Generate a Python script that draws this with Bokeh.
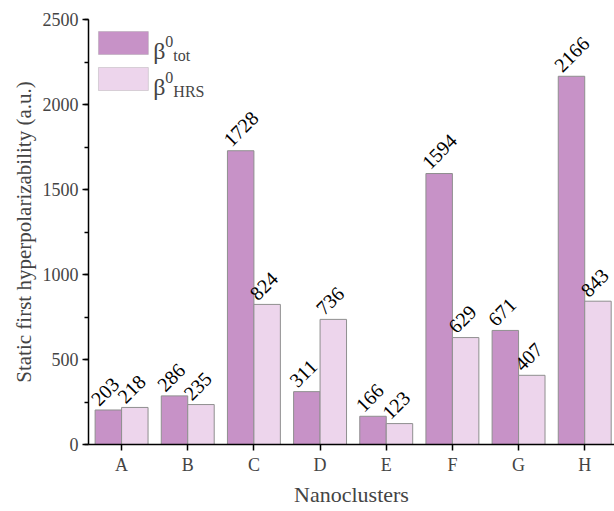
from bokeh.plotting import figure
from bokeh.models import ColumnDataSource, Range1d, FixedTicker, SingleIntervalTicker, Label, BoxAnnotation
from bokeh.core.properties import value
from bokeh.embed import file_html
from bokeh.resources import INLINE

categories = ["A", "B", "C", "D", "E", "F", "G", "H"]
beta_tot = [203, 286, 1728, 311, 166, 1594, 671, 2166]
beta_hrs = [218, 235, 824, 736, 123, 629, 407, 843]

C_TOT = "#C792C7"
C_HRS = "#EDD5EC"
EDGE = "#8f8f8f"
FONT = "Liberation Serif"

xs = list(range(1, len(categories) + 1))
x_tot = [x - 0.2 for x in xs]
x_hrs = [x + 0.2 for x in xs]

p = figure(width=614, height=511, output_backend="svg", toolbar_location=None,
           x_range=Range1d(0.5, 8.45), y_range=Range1d(0, 2500),
           min_border_left=88, min_border_right=0, min_border_top=19, min_border_bottom=67)
p.outline_line_color = None
p.xgrid.visible = False
p.ygrid.visible = False
p.background_fill_color = "white"
p.border_fill_color = "white"

src_t = ColumnDataSource(dict(x=x_tot, top=beta_tot, lab=[str(v) for v in beta_tot]))
src_h = ColumnDataSource(dict(x=x_hrs, top=beta_hrs, lab=[str(v) for v in beta_hrs]))

p.vbar(x="x", top="top", width=0.4, bottom=0, source=src_t, fill_color=C_TOT, line_color=EDGE, line_width=1)
p.vbar(x="x", top="top", width=0.4, bottom=0, source=src_h, fill_color=C_HRS, line_color=EDGE, line_width=1)

for src in (src_t, src_h):
    p.text(x="x", y="top", text="lab", source=src, angle=45, angle_units="deg",
           text_align="left", text_baseline="alphabetic", x_offset=-14, y_offset=-8,
           text_font=value(FONT), text_font_size="20px", text_color="black")

# axes
xa = p.xaxis[0]
xa.ticker = FixedTicker(ticks=xs)
xa.major_label_overrides = {x: c for x, c in zip(xs, categories)}
xa.minor_tick_line_color = None
xa.major_tick_out = 6
xa.major_tick_in = 0
xa.axis_line_width = 1.5
xa.major_tick_line_width = 1.5
xa.major_label_text_font = FONT
xa.major_label_text_font_size = "18px"
xa.major_label_standoff = 4
xa.axis_label = "Nanoclusters"
xa.axis_label_text_font = FONT
xa.axis_label_text_font_size = "22px"
xa.axis_label_text_font_style = "normal"
xa.axis_label_standoff = 4

ya = p.yaxis[0]
ya.ticker = SingleIntervalTicker(interval=500, num_minor_ticks=2)
ya.major_tick_out = 6
ya.major_tick_in = 0
ya.minor_tick_out = 4
ya.minor_tick_in = 0
ya.axis_line_width = 1.5
ya.major_tick_line_width = 1.5
ya.minor_tick_line_width = 1.5
ya.major_label_text_font = FONT
ya.major_label_text_font_size = "18px"
ya.major_label_standoff = 4
ya.axis_label = "Static first hyperpolarizability (a.u.)"
ya.axis_label_text_font = FONT
ya.axis_label_text_font_size = "21px"
ya.axis_label_text_font_style = "normal"
ya.axis_label_standoff = 4

# manual legend (layout in pixel terms converted to data units)
def dx(px):
    return 0.5 + (px - 88) / 66.3

def dy(py):
    return (444 - py) * 2500 / 425.0

for (top_px, col, sub, bl_b, bl_0, bl_s) in [(31, C_TOT, "tot", 50, 41, 55), (67, C_HRS, "HRS", 86, 77, 91)]:
    p.add_layout(BoxAnnotation(left=dx(98), right=dx(148), top=dy(top_px), bottom=dy(top_px + 23),
                               fill_color=col, fill_alpha=1, line_color=EDGE, line_width=1, level="overlay"))
    p.add_layout(Label(x=dx(153), y=dy(bl_b), text="β", text_font=FONT, text_font_size="24px",
                       text_baseline="alphabetic", text_align="left"))
    p.add_layout(Label(x=dx(165), y=dy(bl_0), text="0", text_font=FONT, text_font_size="16px",
                       text_baseline="alphabetic", text_align="left"))
    p.add_layout(Label(x=dx(173), y=dy(bl_s), text=sub, text_font=FONT, text_font_size="16px",
                       text_baseline="alphabetic", text_align="left"))

open("out.html", "w").write(file_html(p, INLINE))
